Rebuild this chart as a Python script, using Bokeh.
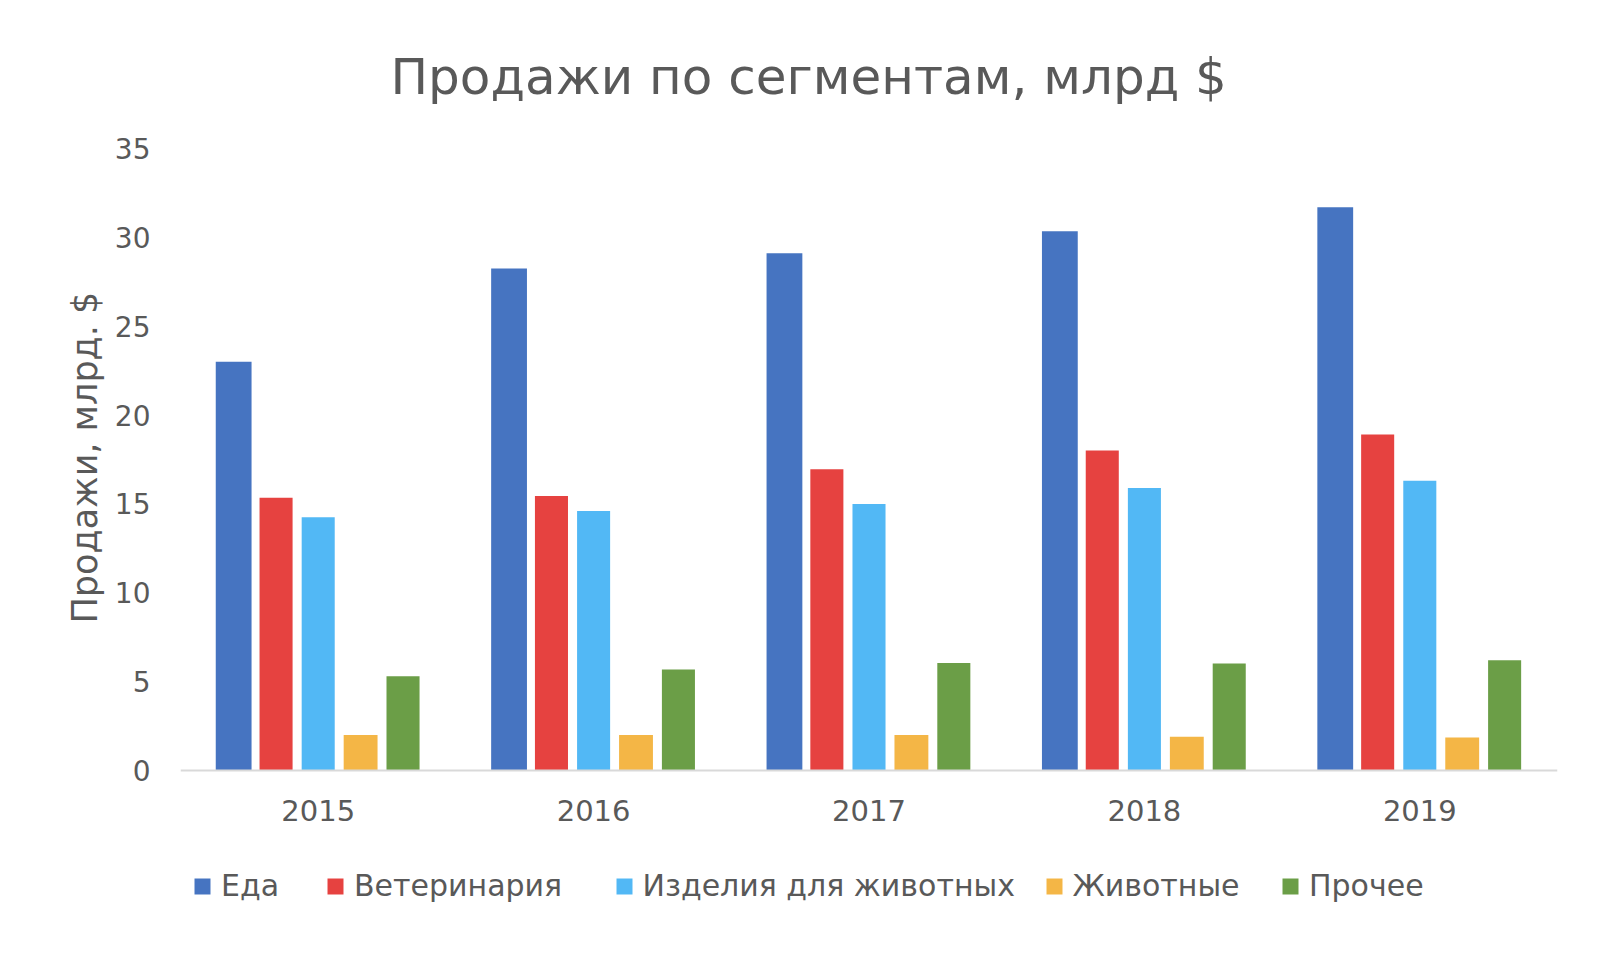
from bokeh.plotting import figure
from bokeh.models import (FactorRange, Range1d, FixedTicker, Legend, LegendItem,
                          Title, ColumnDataSource, Span)
from bokeh.core.properties import value
from bokeh.transform import dodge
from bokeh.embed import file_html
from bokeh.resources import INLINE

years = ["2015", "2016", "2017", "2018", "2019"]
series_names = ["Еда", "Ветеринария", "Изделия для животных", "Животные", "Прочее"]
food = [23.0, 28.25, 29.1, 30.35, 31.7]
vet = [15.35, 15.45, 16.95, 18.0, 18.9]
supplies = [14.25, 14.6, 15.0, 15.9, 16.3]
animals = [2.0, 2.0, 2.0, 1.9, 1.85]
other = [5.3, 5.68, 6.05, 6.02, 6.2]
y_ticks = [0, 5, 10, 15, 20, 25, 30, 35]
Y_MAX = 35

colors = ["#4674C1", "#E64240", "#52B8F5", "#F4B646", "#6B9E47"]
offsets = [-0.307, -0.153, 0.0, 0.154, 0.308]
widths = [0.13, 0.12, 0.12, 0.123, 0.12]
legend_x = [192, 325, 613.5, 1043.5, 1280]  # glyph left edges, page px

FONT = "DejaVu Sans"
TXT = "#595959"

W, H = 1580, 944
FL, FR, FT, FB = 180, 1557, 148, 924
ZERO_PX = 770          # page y of value 0
px_per_unit = (ZERO_PX - FT) / Y_MAX
y_start = Y_MAX - (FB - FT) / px_per_unit
label_y = -(810 - ZERO_PX) / px_per_unit

src = ColumnDataSource(dict(year=years, s0=food, s1=vet, s2=supplies, s3=animals, s4=other))

p = figure(x_range=FactorRange(factors=years, range_padding=0), y_range=Range1d(y_start, Y_MAX),
           width=W, height=H, output_backend="svg", toolbar_location=None,
           min_border_left=FL, min_border_right=W - FR, min_border_top=FT,
           min_border_bottom=H - FB)
p.outline_line_color = None
p.xgrid.grid_line_color = None
p.ygrid.grid_line_color = None
p.background_fill_color = "white"
p.border_fill_color = "white"

renderers = []
for i, key in enumerate(["s0", "s1", "s2", "s3", "s4"]):
    r = p.vbar(x=dodge("year", offsets[i], range=p.x_range), top=key, width=widths[i],
               source=src, fill_color=colors[i], line_color=None)
    renderers.append(r)

# category axis: line at zero and year labels
p.xaxis.visible = False
p.add_layout(Span(location=0, dimension="width", line_color="#D9D9D9", line_width=2))
p.text(x=years, y=[label_y] * len(years), text=years, text_align="center",
       text_baseline="middle", text_font=value(FONT), text_font_size="29px",
       text_color=TXT)

title = Title(text="Продажи по сегментам, млрд $", align="left", text_font=FONT,
              text_font_size="50px", text_font_style="normal", text_color=TXT,
              standoff=86, offset=210)
p.add_layout(title, "above")

yax = p.yaxis[0]
yax.ticker = FixedTicker(ticks=y_ticks)
yax.axis_line_color = None
yax.major_tick_line_color = None
yax.minor_tick_line_color = None
yax.major_tick_out = 0
yax.major_label_standoff = 30
yax.major_label_text_font = FONT
yax.major_label_text_font_size = "28px"
yax.major_label_text_color = TXT

ytitle = Title(text="Продажи, млрд. $", align="left", text_font=FONT,
               text_font_size="35px", text_font_style="normal", text_color=TXT,
               standoff=14, offset=FB - 623)
p.add_layout(ytitle, "left")

for i in range(5):
    lg = Legend(items=[LegendItem(label=series_names[i], renderers=[renderers[i]])],
                location=(legend_x[i] - FL, FB - 885 - 18), orientation="horizontal",
                glyph_width=20, glyph_height=20, label_standoff=9, padding=0, margin=0,
                border_line_alpha=0, background_fill_alpha=0,
                label_text_font=FONT, label_text_font_size="30px", label_text_color=TXT)
    p.add_layout(lg)

open("out.html", "w").write(file_html(p, INLINE))
